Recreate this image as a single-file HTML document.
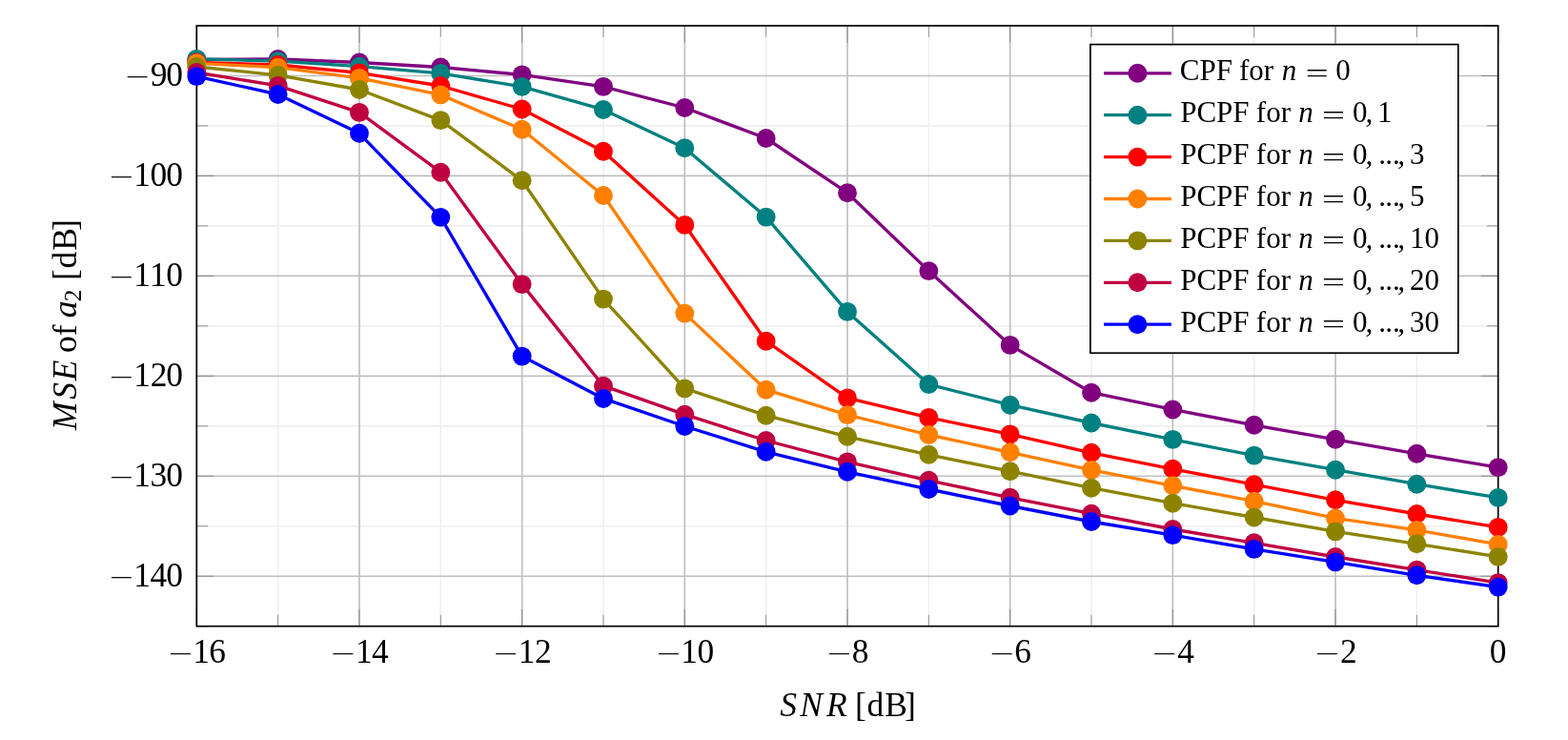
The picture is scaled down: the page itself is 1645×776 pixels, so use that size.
<!DOCTYPE html><html><head><meta charset="utf-8"><title>MSE of a2 vs SNR</title>
<style>html,body{margin:0;padding:0;background:#fff;overflow:hidden;}svg{display:block;}text{font-family:"Liberation Serif", serif;fill:#000;}.i{font-style:italic;}</style></head><body>
<svg width="1645" height="776" viewBox="0 0 1645 776">
<rect width="1645" height="776" fill="#fff"/>
<path d="M291.64 27V656.7M462.31 27V656.7M632.99 27V656.7M803.66 27V656.7M974.34 27V656.7M1145.01 27V656.7M1315.69 27V656.7M1486.36 27V656.7M206.3 131.95H1571.7M206.3 236.9H1571.7M206.3 341.85H1571.7M206.3 446.8H1571.7M206.3 551.75H1571.7" stroke="#f0f0f0" stroke-width="1.67" fill="none"/>
<path d="M376.98 27V656.7M547.65 27V656.7M718.33 27V656.7M889 27V656.7M1059.67 27V656.7M1230.35 27V656.7M1401.03 27V656.7M206.3 79.47H1571.7M206.3 184.43H1571.7M206.3 289.38H1571.7M206.3 394.32H1571.7M206.3 499.28H1571.7M206.3 604.23H1571.7" stroke="#bfbfbf" stroke-width="1.67" fill="none"/>
<path d="M206.3 656.7v-17.8M206.3 27v17.8M291.64 656.7v-11.9M291.64 27v11.9M376.98 656.7v-17.8M376.98 27v17.8M462.31 656.7v-11.9M462.31 27v11.9M547.65 656.7v-17.8M547.65 27v17.8M632.99 656.7v-11.9M632.99 27v11.9M718.33 656.7v-17.8M718.33 27v17.8M803.66 656.7v-11.9M803.66 27v11.9M889 656.7v-17.8M889 27v17.8M974.34 656.7v-11.9M974.34 27v11.9M1059.67 656.7v-17.8M1059.67 27v17.8M1145.01 656.7v-11.9M1145.01 27v11.9M1230.35 656.7v-17.8M1230.35 27v17.8M1315.69 656.7v-11.9M1315.69 27v11.9M1401.03 656.7v-17.8M1401.03 27v17.8M1486.36 656.7v-11.9M1486.36 27v11.9M1571.7 656.7v-17.8M1571.7 27v17.8M206.3 27h11.9M1571.7 27h-11.9M206.3 79.47h17.8M1571.7 79.47h-17.8M206.3 131.95h11.9M1571.7 131.95h-11.9M206.3 184.43h17.8M1571.7 184.43h-17.8M206.3 236.9h11.9M1571.7 236.9h-11.9M206.3 289.38h17.8M1571.7 289.38h-17.8M206.3 341.85h11.9M1571.7 341.85h-11.9M206.3 394.32h17.8M1571.7 394.32h-17.8M206.3 446.8h11.9M1571.7 446.8h-11.9M206.3 499.28h17.8M1571.7 499.28h-17.8M206.3 551.75h11.9M1571.7 551.75h-11.9M206.3 604.23h17.8M1571.7 604.23h-17.8M206.3 656.7h11.9M1571.7 656.7h-11.9" stroke="#808080" stroke-width="0.85" fill="none"/>
<rect x="206.3" y="27" width="1365.4" height="629.7" fill="none" stroke="#000" stroke-width="1.67"/>
<g fill="#800080"><polyline points="206.3,62.4 291.64,62 376.98,65.5 462.31,70.5 547.65,78.35 632.99,90.9 718.33,113 803.66,145 889,202.2 974.34,284.1 1059.67,361.9 1145.01,411.7 1230.35,429.45 1315.69,445.8 1401.03,460.8 1486.36,475.8 1571.7,490.1" fill="none" stroke="#800080" stroke-width="3.34" stroke-linejoin="round"/>
<circle cx="206.3" cy="62.4" r="9.95"/>
<circle cx="291.64" cy="62" r="9.95"/>
<circle cx="376.98" cy="65.5" r="9.95"/>
<circle cx="462.31" cy="70.5" r="9.95"/>
<circle cx="547.65" cy="78.35" r="9.95"/>
<circle cx="632.99" cy="90.9" r="9.95"/>
<circle cx="718.33" cy="113" r="9.95"/>
<circle cx="803.66" cy="145" r="9.95"/>
<circle cx="889" cy="202.2" r="9.95"/>
<circle cx="974.34" cy="284.1" r="9.95"/>
<circle cx="1059.67" cy="361.9" r="9.95"/>
<circle cx="1145.01" cy="411.7" r="9.95"/>
<circle cx="1230.35" cy="429.45" r="9.95"/>
<circle cx="1315.69" cy="445.8" r="9.95"/>
<circle cx="1401.03" cy="460.8" r="9.95"/>
<circle cx="1486.36" cy="475.8" r="9.95"/>
<circle cx="1571.7" cy="490.1" r="9.95"/>
</g>
<g fill="#008080"><polyline points="206.3,61.9 291.64,64 376.98,69.7 462.31,76.9 547.65,90.85 632.99,114.95 718.33,155.2 803.66,227.6 889,326.9 974.34,403.05 1059.67,424.7 1145.01,443.5 1230.35,460.9 1315.69,477.6 1401.03,492.7 1486.36,507.7 1571.7,521.9" fill="none" stroke="#008080" stroke-width="3.34" stroke-linejoin="round"/>
<circle cx="206.3" cy="61.9" r="9.95"/>
<circle cx="291.64" cy="64" r="9.95"/>
<circle cx="376.98" cy="69.7" r="9.95"/>
<circle cx="462.31" cy="76.9" r="9.95"/>
<circle cx="547.65" cy="90.85" r="9.95"/>
<circle cx="632.99" cy="114.95" r="9.95"/>
<circle cx="718.33" cy="155.2" r="9.95"/>
<circle cx="803.66" cy="227.6" r="9.95"/>
<circle cx="889" cy="326.9" r="9.95"/>
<circle cx="974.34" cy="403.05" r="9.95"/>
<circle cx="1059.67" cy="424.7" r="9.95"/>
<circle cx="1145.01" cy="443.5" r="9.95"/>
<circle cx="1230.35" cy="460.9" r="9.95"/>
<circle cx="1315.69" cy="477.6" r="9.95"/>
<circle cx="1401.03" cy="492.7" r="9.95"/>
<circle cx="1486.36" cy="507.7" r="9.95"/>
<circle cx="1571.7" cy="521.9" r="9.95"/>
</g>
<g fill="#ff0000"><polyline points="206.3,65.5 291.64,68 376.98,76.4 462.31,90 547.65,114.5 632.99,158.7 718.33,235.9 803.66,357.7 889,417.4 974.34,437.9 1059.67,455.4 1145.01,474.8 1230.35,491.8 1315.69,508.2 1401.03,524.3 1486.36,539 1571.7,552.9" fill="none" stroke="#ff0000" stroke-width="3.34" stroke-linejoin="round"/>
<circle cx="206.3" cy="65.5" r="9.95"/>
<circle cx="291.64" cy="68" r="9.95"/>
<circle cx="376.98" cy="76.4" r="9.95"/>
<circle cx="462.31" cy="90" r="9.95"/>
<circle cx="547.65" cy="114.5" r="9.95"/>
<circle cx="632.99" cy="158.7" r="9.95"/>
<circle cx="718.33" cy="235.9" r="9.95"/>
<circle cx="803.66" cy="357.7" r="9.95"/>
<circle cx="889" cy="417.4" r="9.95"/>
<circle cx="974.34" cy="437.9" r="9.95"/>
<circle cx="1059.67" cy="455.4" r="9.95"/>
<circle cx="1145.01" cy="474.8" r="9.95"/>
<circle cx="1230.35" cy="491.8" r="9.95"/>
<circle cx="1315.69" cy="508.2" r="9.95"/>
<circle cx="1401.03" cy="524.3" r="9.95"/>
<circle cx="1486.36" cy="539" r="9.95"/>
<circle cx="1571.7" cy="552.9" r="9.95"/>
</g>
<g fill="#ff8000"><polyline points="206.3,66.3 291.64,70.7 376.98,81.9 462.31,99.4 547.65,135.8 632.99,205 718.33,328.6 803.66,408.7 889,435.1 974.34,456 1059.67,474.3 1145.01,492.9 1230.35,509.3 1315.69,525.7 1401.03,543.45 1486.36,555.9 1571.7,570.9" fill="none" stroke="#ff8000" stroke-width="3.34" stroke-linejoin="round"/>
<circle cx="206.3" cy="66.3" r="9.95"/>
<circle cx="291.64" cy="70.7" r="9.95"/>
<circle cx="376.98" cy="81.9" r="9.95"/>
<circle cx="462.31" cy="99.4" r="9.95"/>
<circle cx="547.65" cy="135.8" r="9.95"/>
<circle cx="632.99" cy="205" r="9.95"/>
<circle cx="718.33" cy="328.6" r="9.95"/>
<circle cx="803.66" cy="408.7" r="9.95"/>
<circle cx="889" cy="435.1" r="9.95"/>
<circle cx="974.34" cy="456" r="9.95"/>
<circle cx="1059.67" cy="474.3" r="9.95"/>
<circle cx="1145.01" cy="492.9" r="9.95"/>
<circle cx="1230.35" cy="509.3" r="9.95"/>
<circle cx="1315.69" cy="525.7" r="9.95"/>
<circle cx="1401.03" cy="543.45" r="9.95"/>
<circle cx="1486.36" cy="555.9" r="9.95"/>
<circle cx="1571.7" cy="570.9" r="9.95"/>
</g>
<g fill="#8c8400"><polyline points="206.3,70 291.64,78.8 376.98,94 462.31,126.1 547.65,189.3 632.99,313.6 718.33,407.4 803.66,435.7 889,457.8 974.34,476.8 1059.67,494.2 1145.01,511.7 1230.35,527.7 1315.69,542.5 1401.03,557.4 1486.36,570.3 1571.7,583.9" fill="none" stroke="#8c8400" stroke-width="3.34" stroke-linejoin="round"/>
<circle cx="206.3" cy="70" r="9.95"/>
<circle cx="291.64" cy="78.8" r="9.95"/>
<circle cx="376.98" cy="94" r="9.95"/>
<circle cx="462.31" cy="126.1" r="9.95"/>
<circle cx="547.65" cy="189.3" r="9.95"/>
<circle cx="632.99" cy="313.6" r="9.95"/>
<circle cx="718.33" cy="407.4" r="9.95"/>
<circle cx="803.66" cy="435.7" r="9.95"/>
<circle cx="889" cy="457.8" r="9.95"/>
<circle cx="974.34" cy="476.8" r="9.95"/>
<circle cx="1059.67" cy="494.2" r="9.95"/>
<circle cx="1145.01" cy="511.7" r="9.95"/>
<circle cx="1230.35" cy="527.7" r="9.95"/>
<circle cx="1315.69" cy="542.5" r="9.95"/>
<circle cx="1401.03" cy="557.4" r="9.95"/>
<circle cx="1486.36" cy="570.3" r="9.95"/>
<circle cx="1571.7" cy="583.9" r="9.95"/>
</g>
<g fill="#bf0040"><polyline points="206.3,76 291.64,89.9 376.98,117.9 462.31,180.7 547.65,298.1 632.99,404.7 718.33,434.7 803.66,462 889,484.4 974.34,503.8 1059.67,521.8 1145.01,538.7 1230.35,555 1315.69,569.3 1401.03,584 1486.36,597.6 1571.7,611.1" fill="none" stroke="#bf0040" stroke-width="3.34" stroke-linejoin="round"/>
<circle cx="206.3" cy="76" r="9.95"/>
<circle cx="291.64" cy="89.9" r="9.95"/>
<circle cx="376.98" cy="117.9" r="9.95"/>
<circle cx="462.31" cy="180.7" r="9.95"/>
<circle cx="547.65" cy="298.1" r="9.95"/>
<circle cx="632.99" cy="404.7" r="9.95"/>
<circle cx="718.33" cy="434.7" r="9.95"/>
<circle cx="803.66" cy="462" r="9.95"/>
<circle cx="889" cy="484.4" r="9.95"/>
<circle cx="974.34" cy="503.8" r="9.95"/>
<circle cx="1059.67" cy="521.8" r="9.95"/>
<circle cx="1145.01" cy="538.7" r="9.95"/>
<circle cx="1230.35" cy="555" r="9.95"/>
<circle cx="1315.69" cy="569.3" r="9.95"/>
<circle cx="1401.03" cy="584" r="9.95"/>
<circle cx="1486.36" cy="597.6" r="9.95"/>
<circle cx="1571.7" cy="611.1" r="9.95"/>
</g>
<g fill="#0000ff"><polyline points="206.3,80.1 291.64,99 376.98,139.8 462.31,227.85 547.65,373.6 632.99,417.95 718.33,447 803.66,473.8 889,494.8 974.34,513 1059.67,530.5 1145.01,547 1230.35,561.1 1315.69,575.9 1401.03,589.4 1486.36,603.3 1571.7,615.6" fill="none" stroke="#0000ff" stroke-width="3.34" stroke-linejoin="round"/>
<circle cx="206.3" cy="80.1" r="9.95"/>
<circle cx="291.64" cy="99" r="9.95"/>
<circle cx="376.98" cy="139.8" r="9.95"/>
<circle cx="462.31" cy="227.85" r="9.95"/>
<circle cx="547.65" cy="373.6" r="9.95"/>
<circle cx="632.99" cy="417.95" r="9.95"/>
<circle cx="718.33" cy="447" r="9.95"/>
<circle cx="803.66" cy="473.8" r="9.95"/>
<circle cx="889" cy="494.8" r="9.95"/>
<circle cx="974.34" cy="513" r="9.95"/>
<circle cx="1059.67" cy="530.5" r="9.95"/>
<circle cx="1145.01" cy="547" r="9.95"/>
<circle cx="1230.35" cy="561.1" r="9.95"/>
<circle cx="1315.69" cy="575.9" r="9.95"/>
<circle cx="1401.03" cy="589.4" r="9.95"/>
<circle cx="1486.36" cy="603.3" r="9.95"/>
<circle cx="1571.7" cy="615.6" r="9.95"/>
</g>
<text transform="translate(189.6 685.9) scale(1.27 0.7)" x="-10" y="11.75" font-size="35.4">−</text>
<text x="202.31 219.27" y="694.6" font-size="35.4">16</text>
<text transform="translate(360.28 685.9) scale(1.27 0.7)" x="-10" y="11.75" font-size="35.4">−</text>
<text x="372.98 390.11" y="694.6" font-size="35.4">14</text>
<text transform="translate(530.95 685.9) scale(1.27 0.7)" x="-10" y="11.75" font-size="35.4">−</text>
<text x="543.66 561.05" y="694.6" font-size="35.4">12</text>
<text transform="translate(701.63 685.9) scale(1.27 0.7)" x="-10" y="11.75" font-size="35.4">−</text>
<text x="714.33 731.52" y="694.6" font-size="35.4">10</text>
<text transform="translate(880.65 685.9) scale(1.27 0.7)" x="-10" y="11.75" font-size="35.4">−</text>
<text x="893.85" y="694.6" font-size="35.4">8</text>
<text transform="translate(1051.33 685.9) scale(1.27 0.7)" x="-10" y="11.75" font-size="35.4">−</text>
<text x="1064.29" y="694.6" font-size="35.4">6</text>
<text transform="translate(1222 685.9) scale(1.27 0.7)" x="-10" y="11.75" font-size="35.4">−</text>
<text x="1235.13" y="694.6" font-size="35.4">4</text>
<text transform="translate(1392.68 685.9) scale(1.27 0.7)" x="-10" y="11.75" font-size="35.4">−</text>
<text x="1406.07" y="694.6" font-size="35.4">2</text>
<text x="1562.85" y="694.6" font-size="35.4">0</text>
<text transform="translate(144.35 81.22) scale(1.27 0.7)" x="-10" y="11.75" font-size="35.4">−</text>
<text x="157.71 174.25" y="89.92" font-size="35.4">90</text>
<text transform="translate(127.65 186.18) scale(1.27 0.7)" x="-10" y="11.75" font-size="35.4">−</text>
<text x="140.36 157.55 174.25" y="194.88" font-size="35.4">100</text>
<text transform="translate(127.65 291.13) scale(1.27 0.7)" x="-10" y="11.75" font-size="35.4">−</text>
<text x="140.36 157.06 174.25" y="299.83" font-size="35.4">110</text>
<text transform="translate(127.65 396.07) scale(1.27 0.7)" x="-10" y="11.75" font-size="35.4">−</text>
<text x="140.36 157.75 174.25" y="404.77" font-size="35.4">120</text>
<text transform="translate(127.65 501.03) scale(1.27 0.7)" x="-10" y="11.75" font-size="35.4">−</text>
<text x="140.36 157.39 174.25" y="509.73" font-size="35.4">130</text>
<text transform="translate(127.65 605.98) scale(1.27 0.7)" x="-10" y="11.75" font-size="35.4">−</text>
<text x="140.36 157.48 174.25" y="614.68" font-size="35.4">140</text>
<text y="750.5" font-size="35.5"><tspan class="i" x="818.15 839.22 867.05">SNR</tspan><tspan x="888.16 897.06 909.55 928.22 949.02">&#160;[dB]</tspan></text>
<text transform="translate(79.6 451.6) rotate(-90)" font-size="35.5"><tspan class="i" x="0.51 32.85 52.35" y="0">MSE</tspan><tspan x="72.68 81.68 99.44 111.44" y="0">&#160;of&#160;</tspan><tspan class="i" x="118.36" y="0">a</tspan><tspan x="135.39" y="5.3" font-size="25.4">2</tspan><tspan x="148.71 157.71 170.1 188.87 209.57" y="0">&#160;[dB]</tspan></text>
<rect x="1143.9" y="46.6" width="385.9" height="323.6" fill="#fff" stroke="#000" stroke-width="1.67"/>
<g fill="#800080"><path d="M1158 76.8H1228.9" stroke="#800080" stroke-width="3.34"/><circle cx="1193.4" cy="76.8" r="9.95"/></g>
<text y="84.3" font-size="31"><tspan x="1237.73">CPF</tspan><tspan x="1292.3">&#160;for&#160;</tspan><tspan class="i" x="1344.8">n</tspan></text>
<text transform="translate(1381.65 76.6) scale(1.39 0.9)" x="-8.76" y="10.29" font-size="31">=</text>
<text x="1401.22" y="84.3" font-size="31">0</text>
<g fill="#008080"><path d="M1158 120.7H1228.9" stroke="#008080" stroke-width="3.34"/><circle cx="1193.4" cy="120.7" r="9.95"/></g>
<text y="128.2" font-size="31"><tspan x="1238.21">PCPF</tspan><tspan x="1310.1">&#160;for&#160;</tspan><tspan class="i" x="1362.2">n</tspan></text>
<text transform="translate(1399 120.5) scale(1.39 0.9)" x="-8.76" y="10.29" font-size="31">=</text>
<text y="128.2" font-size="31"><tspan x="1419.02">0</tspan><tspan class="i" x="1432.57">,</tspan><tspan x="1438.57 1445.08">&#160;1</tspan></text>
<g fill="#ff0000"><path d="M1158 164.6H1228.9" stroke="#ff0000" stroke-width="3.34"/><circle cx="1193.4" cy="164.6" r="9.95"/></g>
<text y="172.1" font-size="31"><tspan x="1238.21">PCPF</tspan><tspan x="1310.1">&#160;for&#160;</tspan><tspan class="i" x="1362.2">n</tspan></text>
<text transform="translate(1399 164.4) scale(1.39 0.9)" x="-8.76" y="10.29" font-size="31">=</text>
<text y="172.1" font-size="31"><tspan x="1419.02">0</tspan><tspan class="i" x="1432.57">,</tspan><tspan x="1438.57 1446.36 1453.16 1460.96">&#160;...</tspan><tspan class="i" x="1466.17">,</tspan><tspan x="1479">3</tspan></text>
<g fill="#ff8000"><path d="M1158 208.5H1228.9" stroke="#ff8000" stroke-width="3.34"/><circle cx="1193.4" cy="208.5" r="9.95"/></g>
<text y="216" font-size="31"><tspan x="1238.21">PCPF</tspan><tspan x="1310.1">&#160;for&#160;</tspan><tspan class="i" x="1362.2">n</tspan></text>
<text transform="translate(1399 208.3) scale(1.39 0.9)" x="-8.76" y="10.29" font-size="31">=</text>
<text y="216" font-size="31"><tspan x="1419.02">0</tspan><tspan class="i" x="1432.57">,</tspan><tspan x="1438.57 1446.36 1453.16 1460.96">&#160;...</tspan><tspan class="i" x="1466.17">,</tspan><tspan x="1479">5</tspan></text>
<g fill="#8c8400"><path d="M1158 252.4H1228.9" stroke="#8c8400" stroke-width="3.34"/><circle cx="1193.4" cy="252.4" r="9.95"/></g>
<text y="259.9" font-size="31"><tspan x="1238.21">PCPF</tspan><tspan x="1310.1">&#160;for&#160;</tspan><tspan class="i" x="1362.2">n</tspan></text>
<text transform="translate(1399 252.2) scale(1.39 0.9)" x="-8.76" y="10.29" font-size="31">=</text>
<text y="259.9" font-size="31"><tspan x="1419.02">0</tspan><tspan class="i" x="1432.57">,</tspan><tspan x="1438.57 1446.36 1453.16 1460.96">&#160;...</tspan><tspan class="i" x="1466.17">,</tspan><tspan x="1479 1494.5">10</tspan></text>
<g fill="#bf0040"><path d="M1158 296.3H1228.9" stroke="#bf0040" stroke-width="3.34"/><circle cx="1193.4" cy="296.3" r="9.95"/></g>
<text y="303.8" font-size="31"><tspan x="1238.21">PCPF</tspan><tspan x="1310.1">&#160;for&#160;</tspan><tspan class="i" x="1362.2">n</tspan></text>
<text transform="translate(1399 296.1) scale(1.39 0.9)" x="-8.76" y="10.29" font-size="31">=</text>
<text y="303.8" font-size="31"><tspan x="1419.02">0</tspan><tspan class="i" x="1432.57">,</tspan><tspan x="1438.57 1446.36 1453.16 1460.96">&#160;...</tspan><tspan class="i" x="1466.17">,</tspan><tspan x="1479 1494.5">20</tspan></text>
<g fill="#0000ff"><path d="M1158 340.2H1228.9" stroke="#0000ff" stroke-width="3.34"/><circle cx="1193.4" cy="340.2" r="9.95"/></g>
<text y="347.7" font-size="31"><tspan x="1238.21">PCPF</tspan><tspan x="1310.1">&#160;for&#160;</tspan><tspan class="i" x="1362.2">n</tspan></text>
<text transform="translate(1399 340) scale(1.39 0.9)" x="-8.76" y="10.29" font-size="31">=</text>
<text y="347.7" font-size="31"><tspan x="1419.02">0</tspan><tspan class="i" x="1432.57">,</tspan><tspan x="1438.57 1446.36 1453.16 1460.96">&#160;...</tspan><tspan class="i" x="1466.17">,</tspan><tspan x="1479 1494.5">30</tspan></text>
</svg></body></html>
